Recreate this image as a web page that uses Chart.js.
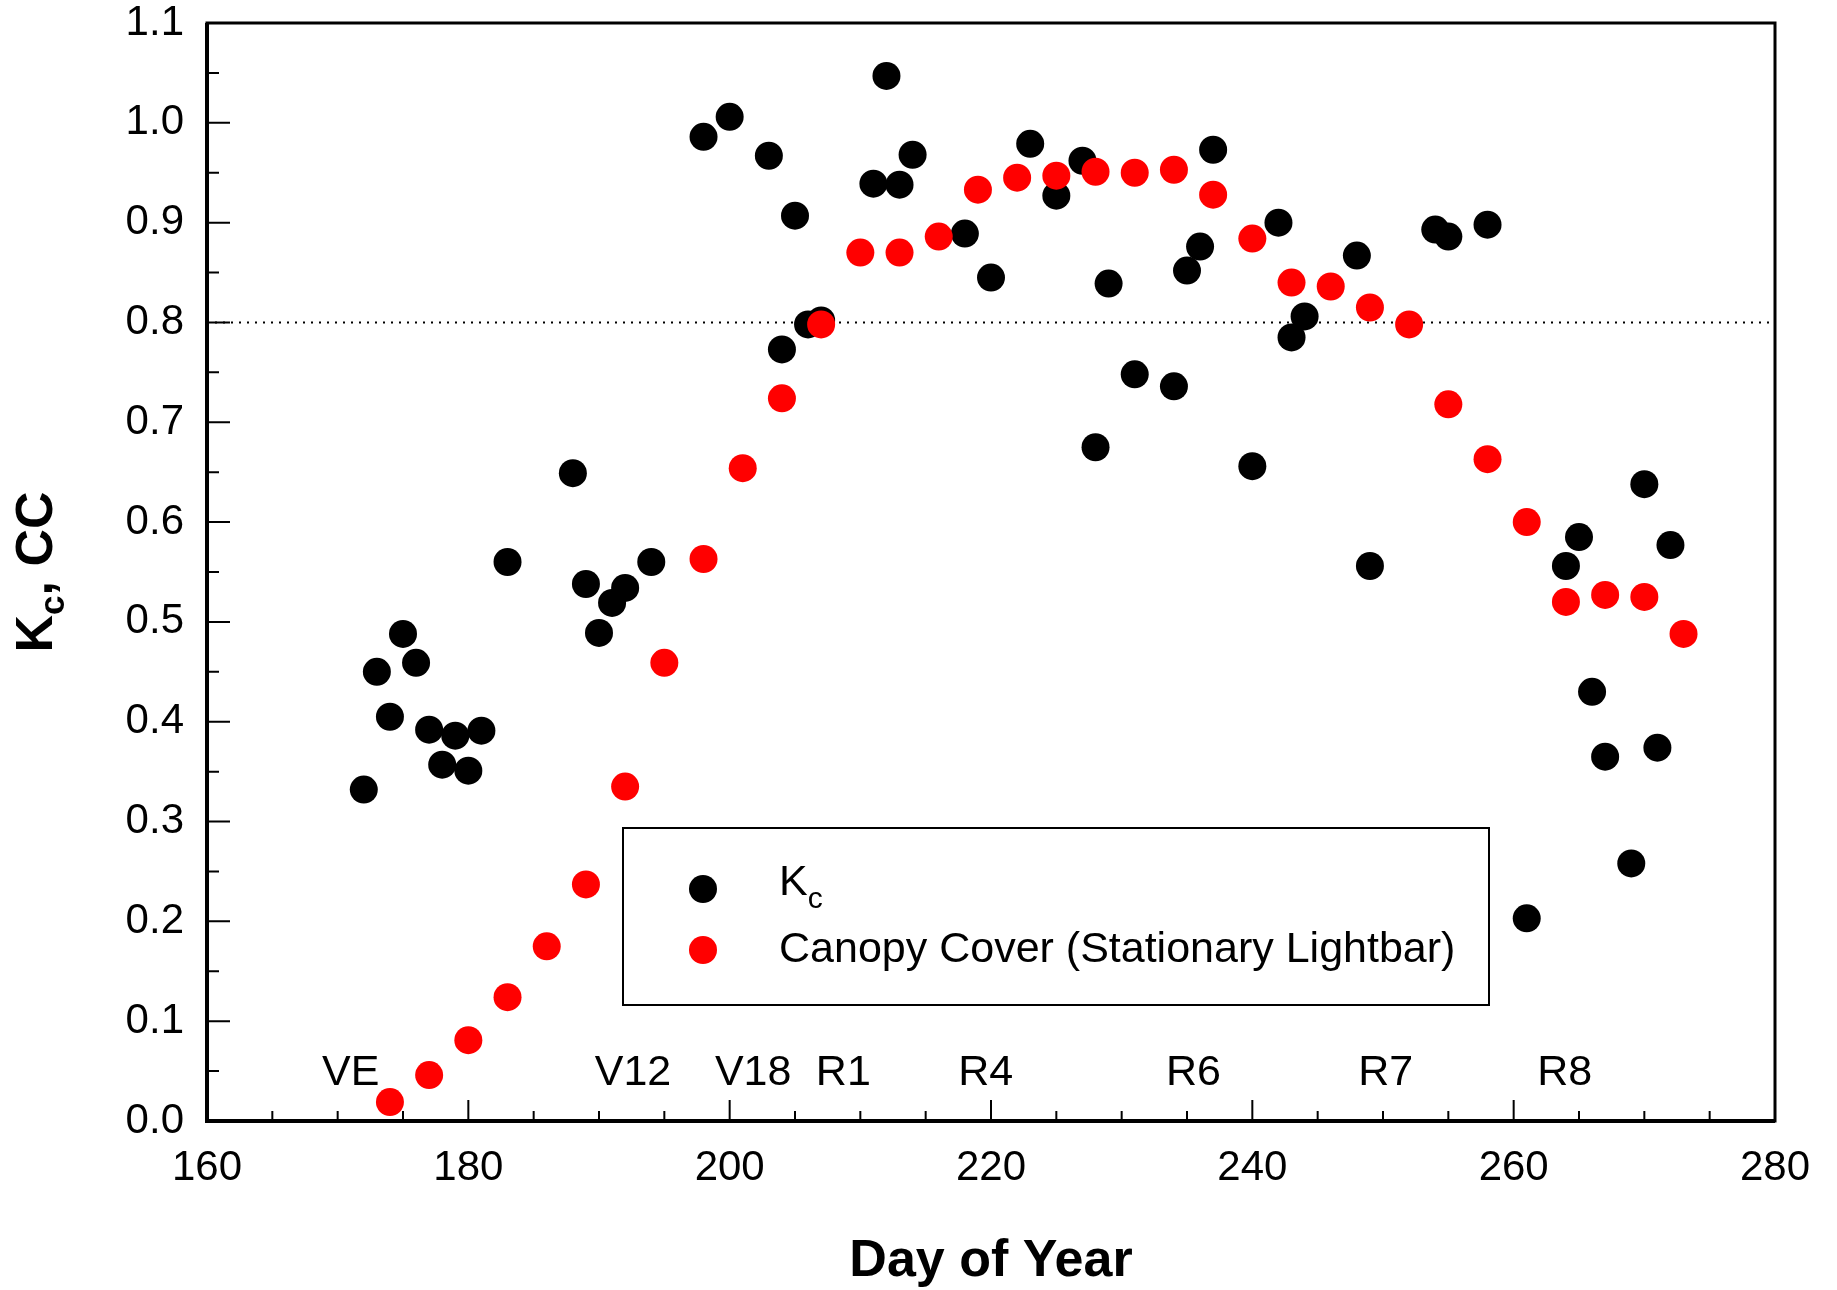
<!DOCTYPE html>
<html>
<head>
<meta charset="utf-8">
<script src="https://cdn.jsdelivr.net/npm/chart.js@4/dist/chart.umd.min.js"></script>
<style>
  html, body { margin: 0; padding: 0; background: #fff; }
  #wrap { width: 1837px; height: 1290px; position: relative; }
</style>
</head>
<body>
<div id="wrap"><canvas id="kcChart"></canvas></div>
<script>
// Kc (black) and canopy cover (red) by day of year
const kcDays = [172, 173, 174, 175, 176, 177, 178, 179, 180, 181, 183, 188, 189, 190, 191, 192, 194,
    198, 200, 203, 205, 204, 206, 207, 211, 212, 213, 214, 218, 220, 223, 225, 227, 228, 229, 231,
    234, 235, 236, 237, 240, 242, 243, 244, 248, 249, 254, 255, 258, 261, 264, 265, 266, 267, 269,
    270, 271, 272];
const kcValues = [0.332, 0.450, 0.405, 0.488, 0.459, 0.392, 0.357, 0.386, 0.351, 0.391, 0.560, 0.649,
    0.538, 0.489, 0.519, 0.534, 0.560, 0.986, 1.006, 0.967, 0.907, 0.773, 0.798, 0.802, 0.939, 1.047,
    0.938, 0.968, 0.889, 0.845, 0.979, 0.927, 0.962, 0.675, 0.839, 0.748, 0.736, 0.852, 0.876, 0.973,
    0.656, 0.900, 0.785, 0.806, 0.867, 0.556, 0.893, 0.886, 0.898, 0.203, 0.556, 0.585, 0.430, 0.365,
    0.258, 0.638, 0.374, 0.577];

const ccDays = [174, 177, 180, 183, 186, 189, 192, 195, 198, 201, 204, 207, 210, 213, 216, 219, 222,
    225, 228, 231, 234, 237, 240, 243, 246, 249, 252, 255, 258, 261, 264, 267, 270, 273];
const ccValues = [0.019, 0.046, 0.081, 0.124, 0.175, 0.237, 0.335, 0.459, 0.563, 0.654, 0.724, 0.798,
    0.870, 0.870, 0.886, 0.933, 0.945, 0.947, 0.951, 0.950, 0.953, 0.928, 0.884, 0.840, 0.836, 0.815,
    0.798, 0.718, 0.663, 0.600, 0.520, 0.527, 0.525, 0.488];

// growth stage labels along the bottom
const stageLabels = ['VE', 'V12', 'V18', 'R1', 'R4', 'R6', 'R7', 'R8'];
const stageDays = [171.0, 192.6, 201.8, 208.7, 219.6, 235.5, 250.2, 263.9];
const stageY = 0.048;

const refLine = 0.8;

const FONT = '"Liberation Sans", Arial, sans-serif';

function toPoints(xs, ys) {
    return xs.map(function (x, i) { return { x: x, y: ys[i] }; });
}

// frame, inward ticks, reference line, stage labels, legend, axis titles
const decorPlugin = {
    id: 'decor',
    beforeDatasetsDraw: function (chart) {
        const ctx = chart.ctx;
        const a = chart.chartArea;
        const y = chart.scales.y;
        ctx.save();
        ctx.strokeStyle = '#000';
        ctx.lineWidth = 2;
        ctx.setLineDash([2, 6]);
        ctx.beginPath();
        ctx.moveTo(a.left, y.getPixelForValue(refLine));
        ctx.lineTo(a.right - 6, y.getPixelForValue(refLine));
        ctx.stroke();
        ctx.restore();
    },
    afterDraw: function (chart) {
        const ctx = chart.ctx;
        const a = chart.chartArea;
        const xs = chart.scales.x;
        const ys = chart.scales.y;
        ctx.save();
        ctx.strokeStyle = '#000';

        // ticks pointing inward
        ctx.lineWidth = 2;
        ctx.beginPath();
        for (let v = 160; v <= 280; v += 5) {
            const px = xs.getPixelForValue(v);
            const len = (v % 20 === 0) ? 21 : 10;
            ctx.moveTo(px, a.bottom);
            ctx.lineTo(px, a.bottom - len);
        }
        for (let k = 0; k <= 22; k++) {
            const py = ys.getPixelForValue(k * 0.05);
            const len = (k % 2 === 0) ? 23 : 12;
            ctx.moveTo(a.left, py);
            ctx.lineTo(a.left + len, py);
        }
        ctx.stroke();

        // frame
        ctx.lineWidth = 3;
        ctx.strokeRect(a.left, a.top, a.right - a.left, a.bottom - a.top);
        ctx.lineWidth = 4;
        ctx.beginPath();
        ctx.moveTo(a.left, a.top);
        ctx.lineTo(a.left, a.bottom);
        ctx.lineTo(a.right, a.bottom);
        ctx.stroke();

        // stage labels
        ctx.fillStyle = '#000';
        ctx.font = '43px ' + FONT;
        ctx.textAlign = 'center';
        ctx.textBaseline = 'middle';
        stageLabels.forEach(function (s, i) {
            ctx.fillText(s, xs.getPixelForValue(stageDays[i]), ys.getPixelForValue(stageY));
        });

        // legend
        ctx.lineWidth = 2;
        ctx.strokeRect(623, 828, 866, 177);
        const ds = chart.data.datasets;
        const rows = [889, 950];
        ds.forEach(function (d, i) {
            ctx.fillStyle = d.backgroundColor;
            ctx.beginPath();
            ctx.arc(703, rows[i], 14, 0, Math.PI * 2);
            ctx.fill();
        });
        ctx.fillStyle = '#000';
        ctx.textAlign = 'left';
        ctx.textBaseline = 'middle';
        ctx.font = '43px ' + FONT;
        ctx.fillText('K', 779, rows[0] - 6);
        const kw = ctx.measureText('K').width;
        ctx.font = '30px ' + FONT;
        ctx.fillText('c', 779 + kw, rows[0] + 11);
        ctx.font = '43px ' + FONT;
        ctx.fillText(ds[1].label, 779, rows[1]);

        // x title
        ctx.font = 'bold 52px ' + FONT;
        ctx.textAlign = 'center';
        ctx.fillText('Day of Year', (a.left + a.right) / 2, 1262);

        // y title, rotated, with subscript
        ctx.translate(42, (a.top + a.bottom) / 2);
        ctx.rotate(-Math.PI / 2);
        ctx.font = 'bold 52px ' + FONT;
        const w1 = ctx.measureText('K').width;
        ctx.font = 'bold 35px ' + FONT;
        const w2 = ctx.measureText('c').width;
        ctx.font = 'bold 52px ' + FONT;
        const w3 = ctx.measureText(', CC').width;
        let x0 = -(w1 + w2 + w3) / 2;
        ctx.textAlign = 'left';
        ctx.fillText('K', x0, -4);
        ctx.font = 'bold 35px ' + FONT;
        ctx.fillText('c', x0 + w1, 12);
        ctx.font = 'bold 52px ' + FONT;
        ctx.fillText(', CC', x0 + w1 + w2, -4);
        ctx.restore();
    }
};

const ctx = document.getElementById('kcChart').getContext('2d');
new Chart(ctx, {
    type: 'scatter',
    data: {
        datasets: [{
            label: 'Kc',
            data: toPoints(kcDays, kcValues),
            backgroundColor: '#000000',
            borderWidth: 0,
            pointRadius: 14,
            order: 1
        }, {
            label: 'Canopy Cover (Stationary Lightbar)',
            data: toPoints(ccDays, ccValues),
            backgroundColor: '#ff0000',
            borderWidth: 0,
            pointRadius: 14,
            order: 0
        }]
    },
    options: {
        responsive: true,
        maintainAspectRatio: false,
        animation: false,
        layout: { padding: { top: 23, right: 62, left: 0, bottom: 0 } },
        plugins: {
            legend: { display: false },
            tooltip: { enabled: false }
        },
        scales: {
            x: {
                type: 'linear',
                min: 160,
                max: 280,
                grid: { display: false, drawTicks: false },
                border: { display: false },
                afterFit: function (s) {
                    s.height = 169;
                    s.paddingLeft = 0;
                    s.paddingRight = 0;
                },
                ticks: {
                    stepSize: 20,
                    padding: 22,
                    color: '#000',
                    font: { family: FONT, size: 42 }
                }
            },
            y: {
                min: 0,
                max: 1.1,
                grid: { display: false, drawTicks: false },
                border: { display: false },
                afterFit: function (s) {
                    s.width = 207;
                    s.paddingTop = 0;
                    s.paddingBottom = 0;
                },
                ticks: {
                    stepSize: 0.1,
                    padding: 23,
                    color: '#000',
                    font: { family: FONT, size: 42 },
                    callback: function (v) { return Number(v).toFixed(1); }
                }
            }
        }
    },
    plugins: [decorPlugin]
});
</script>
</body>
</html>
